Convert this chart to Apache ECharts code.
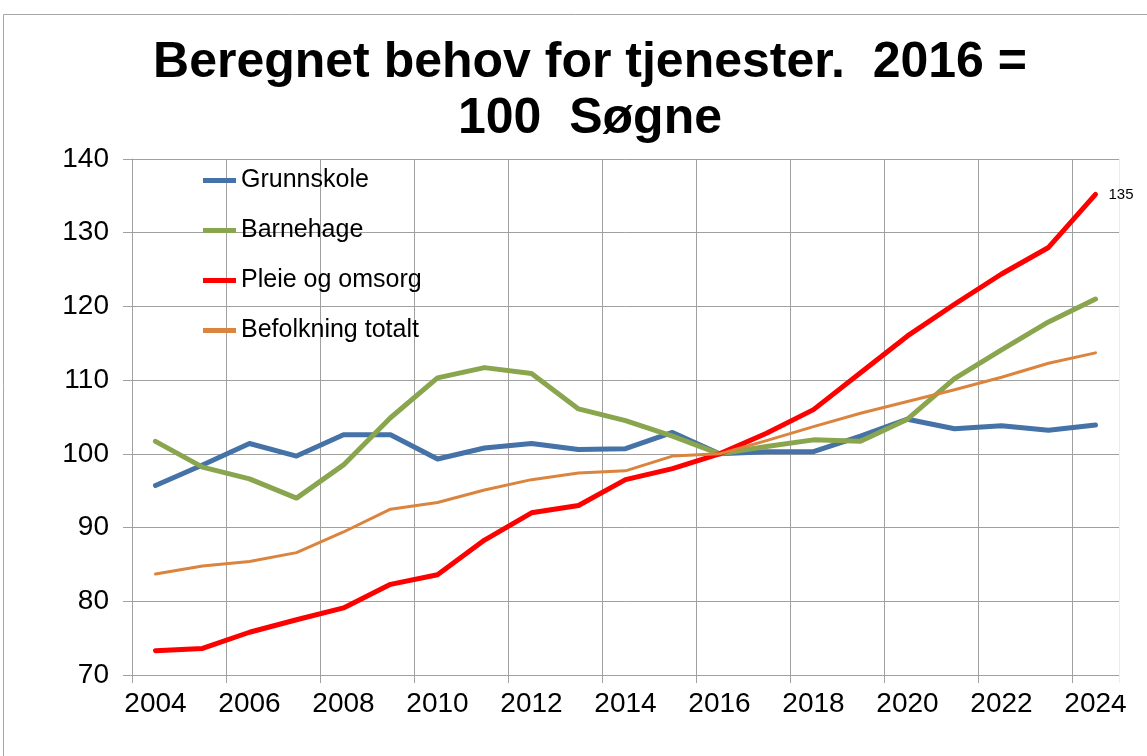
<!DOCTYPE html>
<html>
<head>
<meta charset="utf-8">
<script src="https://cdn.jsdelivr.net/npm/echarts@6/dist/echarts.min.js"></script>
<style>
html,body{margin:0;padding:0;background:#fff;}
#chart{width:1147px;height:756px;}
</style>
</head>
<body>
<div id="chart"></div>
<script>
const years = ['2004','2005','2006','2007','2008','2009','2010','2011','2012','2013','2014','2015','2016','2017','2018','2019','2020','2021','2022','2023','2024'];
const grunnskole = [95.7, 98.5, 101.4, 99.7, 102.6, 102.6, 99.3, 100.8, 101.4, 100.6, 100.7, 102.9, 100, 100.3, 100.3, 102.4, 104.7, 103.4, 103.8, 103.2, 103.9];
const barnehage = [101.7, 98.2, 96.6, 94.0, 98.5, 104.9, 110.3, 111.7, 110.9, 106.1, 104.5, 102.4, 100, 101.0, 101.9, 101.7, 104.7, 110.2, 114.1, 117.9, 121.0];
const pleie = [73.3, 73.6, 75.8, 77.5, 79.1, 82.3, 83.6, 88.3, 92.0, 93.0, 96.5, 98.0, 100, 102.8, 106.0, 111.0, 116.0, 120.3, 124.4, 128.0, 135.2];
const befolkning = [83.7, 84.8, 85.4, 86.6, 89.4, 92.5, 93.4, 95.1, 96.5, 97.4, 97.7, 99.7, 100, 101.8, 103.7, 105.5, 107.1, 108.7, 110.4, 112.3, 113.7];
const seriesNames = ['Grunnskole', 'Barnehage', 'Pleie og omsorg', 'Befolkning totalt'];
const titleText = 'Beregnet behov for tjenester.  2016 =\n100  Søgne';

const colors = ['#4572A7', '#89A54E', '#FF0000', '#DB843D'];
const FONT = '"Liberation Sans", Arial, sans-serif';
const chart = echarts.init(document.getElementById('chart'));

const lastIdx = pleie.length - 1;

function mkSeries(name, data, color, width, withEndLabel) {
  const s = {
    name: name, type: 'line', data: data,
    lineStyle: { color: color, width: width, cap: 'round', join: 'round' },
    itemStyle: { color: color },
    animation: false
  };
  if (withEndLabel) {
    s.symbol = 'circle';
    s.showSymbol = true;
    s.symbolSize = (v, p) => (p.dataIndex === lastIdx ? 2 : 0);
    s.label = {
      show: true, position: 'right', distance: 12, fontSize: 15, color: '#000', fontFamily: FONT,
      formatter: p => (p.dataIndex === lastIdx ? String(Math.round(p.value)) : '')
    };
  } else {
    s.symbol = 'none';
    s.showSymbol = false;
  }
  return s;
}

chart.setOption({
  animation: false,
  backgroundColor: '#fff',
  graphic: [{
    type: 'rect', shape: { x: 3.5, y: 14.5, width: 1300, height: 900 },
    style: { fill: 'none', stroke: '#A6A6A6', lineWidth: 1 }, silent: true, z: -1
  }, {
    // hide the extra closing grid line ECharts adds at the right end of a band axis
    type: 'rect', shape: { x: 1119.2, y: 150, width: 6, height: 545 },
    style: { fill: '#fff' }, silent: true, z: 1
  }],
  title: {
    text: titleText, left: 585, top: 30, textAlign: 'center',
    textStyle: { fontSize: 50, fontWeight: 'bold', color: '#000', fontFamily: FONT, lineHeight: 56 }
  },
  legend: {
    orient: 'vertical', left: 203, top: 168, itemGap: 25, padding: 0,
    itemWidth: 33, itemHeight: 5, icon: 'rect',
    textStyle: { fontSize: 25, color: '#000', fontFamily: FONT, lineHeight: 25 },
    data: seriesNames
  },
  grid: { left: 132, right: 28, top: 159, bottom: 81, containLabel: false },
  xAxis: {
    type: 'category', data: years, boundaryGap: true,
    axisLine: { show: true, lineStyle: { color: '#A0A0A0', width: 1 } },
    axisTick: { show: true, interval: 1, length: 8, lineStyle: { color: '#A0A0A0' } },
    axisLabel: { interval: 1, fontSize: 28, color: '#000', fontFamily: FONT, margin: 15 },
    splitLine: { show: true, interval: 1, lineStyle: { color: '#A0A0A0', width: 1 } }
  },
  yAxis: {
    type: 'value', min: 70, max: 140, interval: 10,
    axisLine: { show: true, lineStyle: { color: '#A0A0A0', width: 1 } },
    axisTick: { show: true, length: 9, lineStyle: { color: '#A0A0A0' } },
    axisLabel: { fontSize: 28, color: '#000', fontFamily: FONT, margin: 23 },
    splitLine: { show: true, lineStyle: { color: '#A0A0A0', width: 1 } }
  },
  series: [
    mkSeries(seriesNames[0], grunnskole, colors[0], 5, false),
    mkSeries(seriesNames[1], barnehage, colors[1], 5, false),
    mkSeries(seriesNames[2], pleie, colors[2], 5, true),
    mkSeries(seriesNames[3], befolkning, colors[3], 3, false)
  ]
});
</script>
</body>
</html>
